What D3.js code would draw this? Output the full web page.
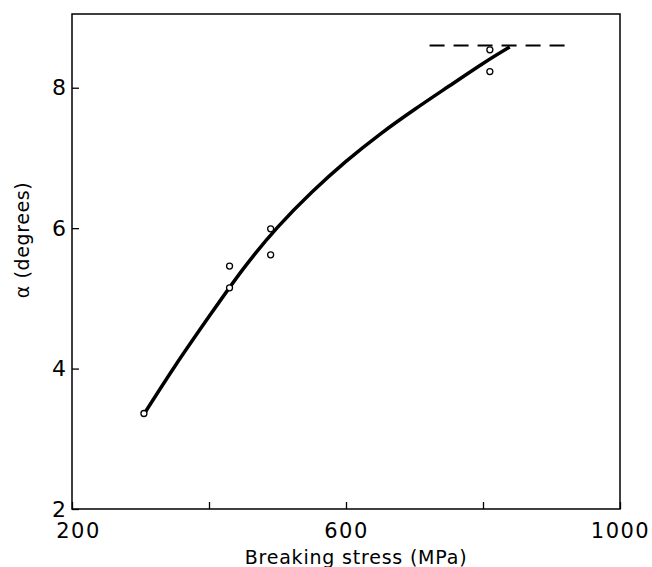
<!DOCTYPE html>
<html>
<head>
<meta charset="utf-8">
<script src="https://cdn.jsdelivr.net/npm/d3@7"></script>
<style>
  body { margin: 0; background: #fff; }
  text { font-family: "DejaVu Sans", sans-serif; fill: #000; }
</style>
</head>
<body>
<svg id="chart" width="652" height="567"></svg>
<script>
// measured points
var stress = [305, 430, 430, 490, 490, 810, 810];
var alpha = [3.36, 5.46, 5.15, 5.99, 5.62, 8.54, 8.23];

// fitted curve drawn through the points
var curveStress = [305, 350, 400, 450, 500, 550, 600, 650, 700, 750, 800, 839];
var curveAlpha = [3.35, 4.03, 4.74, 5.42, 6.01, 6.51, 6.95, 7.34, 7.69, 8.02, 8.345, 8.58];

// dashed plateau
var plateauStress = [722, 920];
var plateauAlpha = 8.6;

var xTicks = [200, 400, 600, 800, 1000];
var xTickLabels = ["200", "", "600", "", "1000"];
var yTicks = [2, 4, 6, 8];
var yTickLabels = ["2", "4", "6", "8"];

var svg = d3.select("#chart");

var x = d3.scaleLinear().domain([200, 1000]).range([72, 620]);
var y = d3.scaleLinear().domain([2, 9.05]).range([509, 14]);

// frame
svg.append("rect")
    .attr("x", x(200))
    .attr("y", y(9.05))
    .attr("width", x(1000) - x(200))
    .attr("height", y(2) - y(9.05))
    .attr("fill", "none")
    .attr("stroke", "#000")
    .attr("stroke-width", 1.5);

// x axis, ticks pointing inward
var xAxis = svg.append("g")
    .attr("transform", "translate(0," + y(2) + ")")
    .call(d3.axisBottom(x)
        .tickValues(xTicks)
        .tickSizeInner(-7)
        .tickSizeOuter(0)
        .tickPadding(14)
        .tickFormat(function(d, i) { return xTickLabels[i]; }));
xAxis.select(".domain").remove();
xAxis.selectAll("line").attr("stroke-width", 1.3);
xAxis.selectAll("text")
    .attr("font-size", 21)
    .attr("letter-spacing", 1.5)
    .attr("dx", function(d) { return d == 200 ? 6 : 0; });

// y axis
var yAxis = svg.append("g")
    .attr("transform", "translate(" + x(200) + ",0)")
    .call(d3.axisLeft(y)
        .tickValues(yTicks)
        .tickSizeInner(-7)
        .tickSizeOuter(0)
        .tickPadding(6)
        .tickFormat(function(d, i) { return yTickLabels[i]; }));
yAxis.select(".domain").remove();
yAxis.selectAll("line").attr("stroke-width", 1.3);
yAxis.selectAll("text").attr("font-size", 22);

// dashed line
svg.append("line")
    .attr("x1", x(plateauStress[0]))
    .attr("x2", x(plateauStress[1]))
    .attr("y1", y(plateauAlpha))
    .attr("y2", y(plateauAlpha))
    .attr("stroke", "#000")
    .attr("stroke-width", 2)
    .attr("stroke-dasharray", "15,9");

// curve
var line = d3.line()
    .x(function(d) { return x(d[0]); })
    .y(function(d) { return y(d[1]); })
    .curve(d3.curveNatural);

svg.append("path")
    .datum(d3.zip(curveStress, curveAlpha))
    .attr("d", line)
    .attr("fill", "none")
    .attr("stroke", "#000")
    .attr("stroke-width", 3.5);

// points
svg.selectAll("circle.pt")
    .data(d3.zip(stress, alpha))
    .enter()
    .append("circle")
    .attr("class", "pt")
    .attr("cx", function(d) { return x(d[0]); })
    .attr("cy", function(d) { return y(d[1]); })
    .attr("r", 3)
    .attr("fill", "#fff")
    .attr("stroke", "#000")
    .attr("stroke-width", 1.3);

// axis titles
svg.append("text")
    .attr("x", 356)
    .attr("y", 564)
    .attr("text-anchor", "middle")
    .attr("font-size", 19)
    .attr("letter-spacing", 0.8)
    .text("Breaking stress (MPa)");

svg.append("text")
    .attr("transform", "translate(29,240) rotate(-90)")
    .attr("text-anchor", "middle")
    .attr("font-size", 19)
    .attr("letter-spacing", 0.6)
    .text("α (degrees)");
</script>
</body>
</html>
